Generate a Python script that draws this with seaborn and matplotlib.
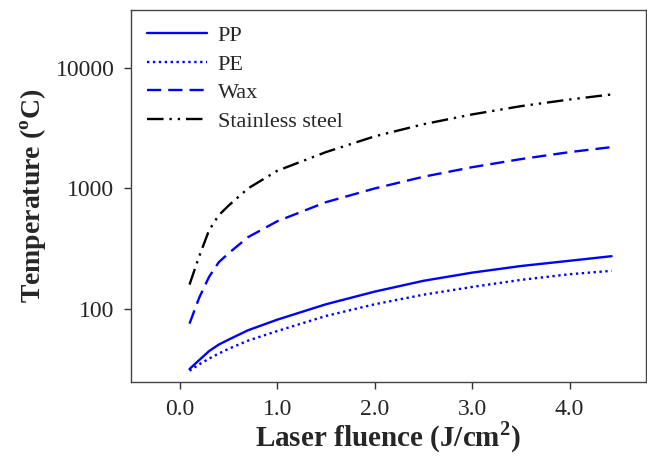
import pandas as pd
import matplotlib
matplotlib.use("Agg")
import matplotlib.pyplot as plt
import seaborn as sns

# laser fluence (J/cm2)
fluence = [0.1, 0.2, 0.3, 0.4, 0.5, 0.7, 1.0, 1.5, 2.0, 2.5, 3.0, 3.5, 4.0, 4.43]

# temperature (oC) for each material
pp = [32, 38, 45, 51, 56, 67, 82, 110, 140, 172, 201, 228, 252, 275]
pe = [31, 35, 39, 43, 47, 55, 66, 88, 110, 132, 153, 175, 195, 208]
wax = [76, 125, 185, 245, 290, 395, 535, 770, 1000, 1250, 1500, 1750, 2000, 2200]
steel = [160, 275, 450, 600, 720, 1000, 1400, 2000, 2700, 3400, 4100, 4800, 5450, 6000]

names = ["PP", "PE", "Wax", "Stainless steel"]
values = [pp, pe, wax, steel]

data = pd.DataFrame({
    "fluence": fluence * len(names),
    "temp": [v for vals in values for v in vals],
    "material": [n for n in names for _ in fluence],
})

sns.set_style("ticks")
plt.rcParams["font.family"] = ["Liberation Serif", "DejaVu Serif"]
plt.rcParams["mathtext.fontset"] = "custom"
plt.rcParams["mathtext.rm"] = "Liberation Serif"
plt.rcParams["mathtext.bf"] = "Liberation Serif:bold"

styles = {
    "PP": ("#0000ff", "-"),
    "PE": ("#0000ff", (0, (1, 1.5))),
    "Wax": ("#0000ff", (0, (6, 3))),
    "Stainless steel": ("black", (0, (7, 2.5, 1, 2.5, 1, 2.5))),
}

fig = plt.figure(figsize=(6.47, 4.65), dpi=100)
ax = fig.add_axes([0.2025, 0.1785, 0.7955, 0.80])

for name in names:
    color, ls = styles[name]
    sns.lineplot(data=data[data["material"] == name], x="fluence", y="temp",
                 color=color, linestyle=ls, linewidth=1.7, label=name, ax=ax)

ax.set_yscale("log")
ax.set_ylim(25, 30000)
ax.set_xlim(-0.5, 4.78)
ax.set_xticks([0, 1, 2, 3, 4])
ax.set_xticklabels(["0.0", "1.0", "2.0", "3.0", "4.0"])
ax.set_yticks([100, 1000, 10000])
ax.set_yticklabels(["100", "1000", "10000"])
ax.minorticks_off()
ax.tick_params(axis="both", labelsize=17, length=5, width=1, color="#333333", pad=7)

for s in ax.spines.values():
    s.set_color("#444444")
    s.set_linewidth(1)

ax.set_xlabel(r"Laser fluence (J/cm$^{\mathbf{2}}$)", fontsize=21, fontweight="bold", labelpad=0)
ax.set_ylabel(r"Temperature ($^{\mathbf{o}}$C)", fontsize=20, fontweight="bold", labelpad=5)

ax.legend(loc="upper left", frameon=False, fontsize=16, handlelength=2.7,
          labelspacing=0.36, handletextpad=0.5, borderaxespad=0.3)

plt.savefig("out.png", dpi=100)
